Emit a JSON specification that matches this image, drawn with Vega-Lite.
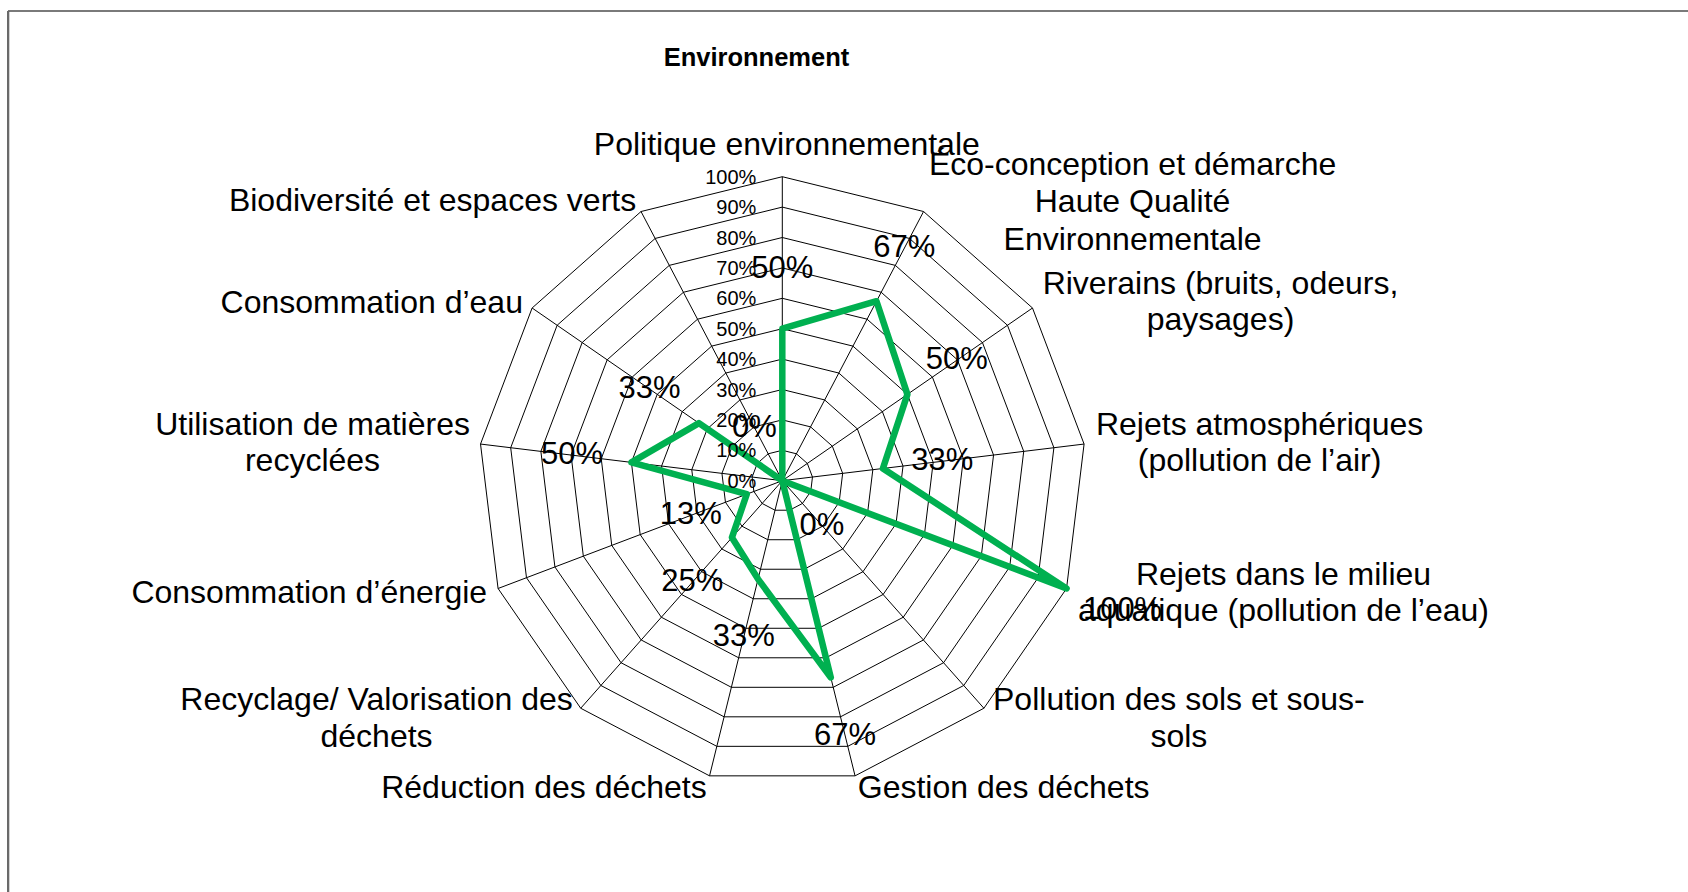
{
  "$schema": "https://vega.github.io/schema/vega-lite/v6.json",
  "width": 1688,
  "height": 892,
  "autosize": "none",
  "padding": 0,
  "background": "white",
  "config": {"view": {"stroke": null}, "text": {"font": "Liberation Sans", "color": "black"}},
  "title": {"text": "Environnement", "font": "Liberation Sans", "fontSize": 25.5, "fontWeight": "bold", "color": "black", "anchor": "middle", "frame": "group", "orient": "top", "offset": -91, "baseline": "alphabetic", "dx": -87.5},
  "datasets": {
    "cats": [
      {"i": 0, "cat": "Politique environnementale", "value": 0.5},
      {"i": 1, "cat": "Éco-conception et démarche\nHaute Qualité\nEnvironnementale", "value": 0.6667},
      {"i": 2, "cat": "Riverains (bruits, odeurs,\npaysages)", "value": 0.5},
      {"i": 3, "cat": "Rejets atmosphériques\n(pollution de l’air)", "value": 0.3333},
      {"i": 4, "cat": "Rejets dans le milieu\naquatique (pollution de l’eau)", "value": 1.0},
      {"i": 5, "cat": "Pollution des sols et sous-\nsols", "value": 0},
      {"i": 6, "cat": "Gestion des déchets", "value": 0.6667},
      {"i": 7, "cat": "Réduction des déchets", "value": 0.3333},
      {"i": 8, "cat": "Recyclage/ Valorisation des\ndéchets", "value": 0.25},
      {"i": 9, "cat": "Consommation d’énergie", "value": 0.125},
      {"i": 10, "cat": "Utilisation de matières\nrecyclées", "value": 0.5},
      {"i": 11, "cat": "Consommation d’eau", "value": 0.3333},
      {"i": 12, "cat": "Biodiversité et espaces verts", "value": 0}
    ],
    "grid": [
      {"i": 0, "levels": [0.1, 0.2, 0.3, 0.4, 0.5, 0.6, 0.7, 0.8, 0.9, 1.0]},
      {"i": 1, "levels": [0.1, 0.2, 0.3, 0.4, 0.5, 0.6, 0.7, 0.8, 0.9, 1.0]},
      {"i": 2, "levels": [0.1, 0.2, 0.3, 0.4, 0.5, 0.6, 0.7, 0.8, 0.9, 1.0]},
      {"i": 3, "levels": [0.1, 0.2, 0.3, 0.4, 0.5, 0.6, 0.7, 0.8, 0.9, 1.0]},
      {"i": 4, "levels": [0.1, 0.2, 0.3, 0.4, 0.5, 0.6, 0.7, 0.8, 0.9, 1.0]},
      {"i": 5, "levels": [0.1, 0.2, 0.3, 0.4, 0.5, 0.6, 0.7, 0.8, 0.9, 1.0]},
      {"i": 6, "levels": [0.1, 0.2, 0.3, 0.4, 0.5, 0.6, 0.7, 0.8, 0.9, 1.0]},
      {"i": 7, "levels": [0.1, 0.2, 0.3, 0.4, 0.5, 0.6, 0.7, 0.8, 0.9, 1.0]},
      {"i": 8, "levels": [0.1, 0.2, 0.3, 0.4, 0.5, 0.6, 0.7, 0.8, 0.9, 1.0]},
      {"i": 9, "levels": [0.1, 0.2, 0.3, 0.4, 0.5, 0.6, 0.7, 0.8, 0.9, 1.0]},
      {"i": 10, "levels": [0.1, 0.2, 0.3, 0.4, 0.5, 0.6, 0.7, 0.8, 0.9, 1.0]},
      {"i": 11, "levels": [0.1, 0.2, 0.3, 0.4, 0.5, 0.6, 0.7, 0.8, 0.9, 1.0]},
      {"i": 12, "levels": [0.1, 0.2, 0.3, 0.4, 0.5, 0.6, 0.7, 0.8, 0.9, 1.0]}
    ],
    "ticks": [
      {"t": 0}, {"t": 0.1}, {"t": 0.2}, {"t": 0.3}, {"t": 0.4}, {"t": 0.5},
      {"t": 0.6}, {"t": 0.7}, {"t": 0.8}, {"t": 0.9}, {"t": 1.0}
    ]
  },
  "layer": [
    {
      "data": {"name": "ticks"},
      "mark": {"type": "rule", "stroke": "#7a7a7a", "strokeWidth": 2},
      "encoding": {
        "x": {"datum": -2.547, "type": "quantitative", "scale": {"domain": [-2.5734, 2.9793], "nice": false, "zero": false}, "axis": null},
        "x2": {"datum": 2.9793},
        "y": {"datum": 1.5451, "type": "quantitative", "scale": {"domain": [-1.353, 1.5813], "nice": false, "zero": false}, "axis": null}
      }
    },
    {
      "data": {"name": "ticks"},
      "mark": {"type": "rule", "stroke": "#6a6a6a", "strokeWidth": 2},
      "encoding": {
        "x": {"datum": -2.547, "type": "quantitative", "scale": {"domain": [-2.5734, 2.9793], "nice": false, "zero": false}, "axis": null},
        "y": {"datum": 1.5451, "type": "quantitative", "scale": {"domain": [-1.353, 1.5813], "nice": false, "zero": false}, "axis": null},
        "y2": {"datum": -1.353}
      }
    },
    {
      "data": {"name": "grid"},
      "transform": [
        {"flatten": ["levels"]},
        {"calculate": "datum.levels * sin(2 * PI * datum.i / 13)", "as": "gx"},
        {"calculate": "datum.levels * cos(2 * PI * datum.i / 13)", "as": "gy"}
      ],
      "mark": {"type": "line", "interpolate": "linear-closed", "stroke": "black", "strokeWidth": 1},
      "encoding": {
        "x": {"field": "gx", "type": "quantitative", "scale": {"domain": [-2.5734, 2.9793], "nice": false, "zero": false}, "axis": null},
        "y": {"field": "gy", "type": "quantitative", "scale": {"domain": [-1.353, 1.5813], "nice": false, "zero": false}, "axis": null},
        "detail": {"field": "levels", "type": "nominal"},
        "order": {"field": "i", "type": "quantitative"}
      }
    },
    {
      "data": {"name": "cats"},
      "transform": [
        {"calculate": "sin(2 * PI * datum.i / 13)", "as": "sx"},
        {"calculate": "cos(2 * PI * datum.i / 13)", "as": "sy"}
      ],
      "mark": {"type": "rule", "stroke": "black", "strokeWidth": 1},
      "encoding": {
        "x": {"field": "sx", "type": "quantitative", "scale": {"domain": [-2.5734, 2.9793], "nice": false, "zero": false}, "axis": null},
        "y": {"field": "sy", "type": "quantitative", "scale": {"domain": [-1.353, 1.5813], "nice": false, "zero": false}, "axis": null},
        "x2": {"datum": 0},
        "y2": {"datum": 0}
      }
    },
    {
      "data": {"name": "cats"},
      "transform": [
        {"calculate": "datum.value * sin(2 * PI * datum.i / 13)", "as": "px"},
        {"calculate": "datum.value * cos(2 * PI * datum.i / 13)", "as": "py"}
      ],
      "mark": {"type": "line", "interpolate": "linear-closed", "stroke": "#00b050", "strokeWidth": 6.5, "strokeJoin": "round", "strokeCap": "round"},
      "encoding": {
        "x": {"field": "px", "type": "quantitative", "scale": {"domain": [-2.5734, 2.9793], "nice": false, "zero": false}, "axis": null},
        "y": {"field": "py", "type": "quantitative", "scale": {"domain": [-1.353, 1.5813], "nice": false, "zero": false}, "axis": null},
        "order": {"field": "i", "type": "quantitative"}
      }
    },
    {
      "data": {"name": "ticks"},
      "mark": {"type": "text", "align": "right", "baseline": "middle", "dx": -26, "dy": 1, "fontSize": 20, "font": "Liberation Sans", "color": "black"},
      "encoding": {
        "x": {"datum": 0, "type": "quantitative", "scale": {"domain": [-2.5734, 2.9793], "nice": false, "zero": false}, "axis": null},
        "y": {"field": "t", "type": "quantitative", "scale": {"domain": [-1.353, 1.5813], "nice": false, "zero": false}, "axis": null},
        "text": {"field": "t", "type": "quantitative", "format": ".0%"}
      }
    },
    {
      "data": {"name": "cats"},
      "transform": [
        {"calculate": "(datum.value + 0.197) * sin(2 * PI * datum.i / 13)", "as": "lx"},
        {"calculate": "(datum.value + 0.197) * cos(2 * PI * datum.i / 13)", "as": "ly"}
      ],
      "mark": {"type": "text", "align": "center", "baseline": "middle", "fontSize": 31, "font": "Liberation Sans", "color": "black"},
      "encoding": {
        "x": {"field": "lx", "type": "quantitative", "scale": {"domain": [-2.5734, 2.9793], "nice": false, "zero": false}, "axis": null},
        "y": {"field": "ly", "type": "quantitative", "scale": {"domain": [-1.353, 1.5813], "nice": false, "zero": false}, "axis": null},
        "text": {"field": "value", "type": "quantitative", "format": ".0%"}
      }
    },
    {"data": {"name": "cats"}, "transform": [{"filter": "datum.i == 0"}, {"calculate": "sin(2 * PI * datum.i / 13)", "as": "sx"}, {"calculate": "cos(2 * PI * datum.i / 13)", "as": "sy"}],
     "mark": {"type": "text", "align": "center", "baseline": "alphabetic", "lineBreak": "\n", "lineHeight": 36.5, "fontSize": 32, "font": "Liberation Sans", "color": "black", "dx": 4.5, "dy": -22},
     "encoding": {"x": {"field": "sx", "type": "quantitative", "scale": {"domain": [-2.5734, 2.9793], "nice": false, "zero": false}, "axis": null}, "y": {"field": "sy", "type": "quantitative", "scale": {"domain": [-1.353, 1.5813], "nice": false, "zero": false}, "axis": null}, "text": {"field": "cat", "type": "nominal"}}},
    {"data": {"name": "cats"}, "transform": [{"filter": "datum.i == 1"}, {"calculate": "sin(2 * PI * datum.i / 13)", "as": "sx"}, {"calculate": "cos(2 * PI * datum.i / 13)", "as": "sy"}],
     "mark": {"type": "text", "align": "center", "baseline": "alphabetic", "lineBreak": "\n", "lineHeight": 37.5, "fontSize": 32, "font": "Liberation Sans", "color": "black", "dx": 209, "dy": -37},
     "encoding": {"x": {"field": "sx", "type": "quantitative", "scale": {"domain": [-2.5734, 2.9793], "nice": false, "zero": false}, "axis": null}, "y": {"field": "sy", "type": "quantitative", "scale": {"domain": [-1.353, 1.5813], "nice": false, "zero": false}, "axis": null}, "text": {"field": "cat", "type": "nominal"}}},
    {"data": {"name": "cats"}, "transform": [{"filter": "datum.i == 2"}, {"calculate": "sin(2 * PI * datum.i / 13)", "as": "sx"}, {"calculate": "cos(2 * PI * datum.i / 13)", "as": "sy"}],
     "mark": {"type": "text", "align": "center", "baseline": "alphabetic", "lineBreak": "\n", "lineHeight": 35.5, "fontSize": 32, "font": "Liberation Sans", "color": "black", "dx": 188, "dy": -14},
     "encoding": {"x": {"field": "sx", "type": "quantitative", "scale": {"domain": [-2.5734, 2.9793], "nice": false, "zero": false}, "axis": null}, "y": {"field": "sy", "type": "quantitative", "scale": {"domain": [-1.353, 1.5813], "nice": false, "zero": false}, "axis": null}, "text": {"field": "cat", "type": "nominal"}}},
    {"data": {"name": "cats"}, "transform": [{"filter": "datum.i == 3"}, {"calculate": "sin(2 * PI * datum.i / 13)", "as": "sx"}, {"calculate": "cos(2 * PI * datum.i / 13)", "as": "sy"}],
     "mark": {"type": "text", "align": "center", "baseline": "alphabetic", "lineBreak": "\n", "lineHeight": 36.5, "fontSize": 32, "font": "Liberation Sans", "color": "black", "dx": 175.5, "dy": -9.4},
     "encoding": {"x": {"field": "sx", "type": "quantitative", "scale": {"domain": [-2.5734, 2.9793], "nice": false, "zero": false}, "axis": null}, "y": {"field": "sy", "type": "quantitative", "scale": {"domain": [-1.353, 1.5813], "nice": false, "zero": false}, "axis": null}, "text": {"field": "cat", "type": "nominal"}}},
    {"data": {"name": "cats"}, "transform": [{"filter": "datum.i == 4"}, {"calculate": "sin(2 * PI * datum.i / 13)", "as": "sx"}, {"calculate": "cos(2 * PI * datum.i / 13)", "as": "sy"}],
     "mark": {"type": "text", "align": "center", "baseline": "alphabetic", "lineBreak": "\n", "lineHeight": 36, "fontSize": 32, "font": "Liberation Sans", "color": "black", "dx": 217, "dy": -3.8},
     "encoding": {"x": {"field": "sx", "type": "quantitative", "scale": {"domain": [-2.5734, 2.9793], "nice": false, "zero": false}, "axis": null}, "y": {"field": "sy", "type": "quantitative", "scale": {"domain": [-1.353, 1.5813], "nice": false, "zero": false}, "axis": null}, "text": {"field": "cat", "type": "nominal"}}},
    {"data": {"name": "cats"}, "transform": [{"filter": "datum.i == 5"}, {"calculate": "sin(2 * PI * datum.i / 13)", "as": "sx"}, {"calculate": "cos(2 * PI * datum.i / 13)", "as": "sy"}],
     "mark": {"type": "text", "align": "center", "baseline": "alphabetic", "lineBreak": "\n", "lineHeight": 37.5, "fontSize": 32, "font": "Liberation Sans", "color": "black", "dx": 195, "dy": 1.5},
     "encoding": {"x": {"field": "sx", "type": "quantitative", "scale": {"domain": [-2.5734, 2.9793], "nice": false, "zero": false}, "axis": null}, "y": {"field": "sy", "type": "quantitative", "scale": {"domain": [-1.353, 1.5813], "nice": false, "zero": false}, "axis": null}, "text": {"field": "cat", "type": "nominal"}}},
    {"data": {"name": "cats"}, "transform": [{"filter": "datum.i == 6"}, {"calculate": "sin(2 * PI * datum.i / 13)", "as": "sx"}, {"calculate": "cos(2 * PI * datum.i / 13)", "as": "sy"}],
     "mark": {"type": "text", "align": "center", "baseline": "alphabetic", "lineBreak": "\n", "lineHeight": 36.5, "fontSize": 32, "font": "Liberation Sans", "color": "black", "dx": 148.6, "dy": 22.3},
     "encoding": {"x": {"field": "sx", "type": "quantitative", "scale": {"domain": [-2.5734, 2.9793], "nice": false, "zero": false}, "axis": null}, "y": {"field": "sy", "type": "quantitative", "scale": {"domain": [-1.353, 1.5813], "nice": false, "zero": false}, "axis": null}, "text": {"field": "cat", "type": "nominal"}}},
    {"data": {"name": "cats"}, "transform": [{"filter": "datum.i == 7"}, {"calculate": "sin(2 * PI * datum.i / 13)", "as": "sx"}, {"calculate": "cos(2 * PI * datum.i / 13)", "as": "sy"}],
     "mark": {"type": "text", "align": "center", "baseline": "alphabetic", "lineBreak": "\n", "lineHeight": 36.5, "fontSize": 32, "font": "Liberation Sans", "color": "black", "dx": -165.6, "dy": 22.3},
     "encoding": {"x": {"field": "sx", "type": "quantitative", "scale": {"domain": [-2.5734, 2.9793], "nice": false, "zero": false}, "axis": null}, "y": {"field": "sy", "type": "quantitative", "scale": {"domain": [-1.353, 1.5813], "nice": false, "zero": false}, "axis": null}, "text": {"field": "cat", "type": "nominal"}}},
    {"data": {"name": "cats"}, "transform": [{"filter": "datum.i == 8"}, {"calculate": "sin(2 * PI * datum.i / 13)", "as": "sx"}, {"calculate": "cos(2 * PI * datum.i / 13)", "as": "sy"}],
     "mark": {"type": "text", "align": "center", "baseline": "alphabetic", "lineBreak": "\n", "lineHeight": 37.5, "fontSize": 32, "font": "Liberation Sans", "color": "black", "dx": -204.2, "dy": 1.5},
     "encoding": {"x": {"field": "sx", "type": "quantitative", "scale": {"domain": [-2.5734, 2.9793], "nice": false, "zero": false}, "axis": null}, "y": {"field": "sy", "type": "quantitative", "scale": {"domain": [-1.353, 1.5813], "nice": false, "zero": false}, "axis": null}, "text": {"field": "cat", "type": "nominal"}}},
    {"data": {"name": "cats"}, "transform": [{"filter": "datum.i == 9"}, {"calculate": "sin(2 * PI * datum.i / 13)", "as": "sx"}, {"calculate": "cos(2 * PI * datum.i / 13)", "as": "sy"}],
     "mark": {"type": "text", "align": "center", "baseline": "alphabetic", "lineBreak": "\n", "lineHeight": 36.5, "fontSize": 32, "font": "Liberation Sans", "color": "black", "dx": -188.8, "dy": 14.8},
     "encoding": {"x": {"field": "sx", "type": "quantitative", "scale": {"domain": [-2.5734, 2.9793], "nice": false, "zero": false}, "axis": null}, "y": {"field": "sy", "type": "quantitative", "scale": {"domain": [-1.353, 1.5813], "nice": false, "zero": false}, "axis": null}, "text": {"field": "cat", "type": "nominal"}}},
    {"data": {"name": "cats"}, "transform": [{"filter": "datum.i == 10"}, {"calculate": "sin(2 * PI * datum.i / 13)", "as": "sx"}, {"calculate": "cos(2 * PI * datum.i / 13)", "as": "sy"}],
     "mark": {"type": "text", "align": "center", "baseline": "alphabetic", "lineBreak": "\n", "lineHeight": 36, "fontSize": 32, "font": "Liberation Sans", "color": "black", "dx": -168, "dy": -9.4},
     "encoding": {"x": {"field": "sx", "type": "quantitative", "scale": {"domain": [-2.5734, 2.9793], "nice": false, "zero": false}, "axis": null}, "y": {"field": "sy", "type": "quantitative", "scale": {"domain": [-1.353, 1.5813], "nice": false, "zero": false}, "axis": null}, "text": {"field": "cat", "type": "nominal"}}},
    {"data": {"name": "cats"}, "transform": [{"filter": "datum.i == 11"}, {"calculate": "sin(2 * PI * datum.i / 13)", "as": "sx"}, {"calculate": "cos(2 * PI * datum.i / 13)", "as": "sy"}],
     "mark": {"type": "text", "align": "center", "baseline": "alphabetic", "lineBreak": "\n", "lineHeight": 36.5, "fontSize": 32, "font": "Liberation Sans", "color": "black", "dx": -160.4, "dy": 4.7},
     "encoding": {"x": {"field": "sx", "type": "quantitative", "scale": {"domain": [-2.5734, 2.9793], "nice": false, "zero": false}, "axis": null}, "y": {"field": "sy", "type": "quantitative", "scale": {"domain": [-1.353, 1.5813], "nice": false, "zero": false}, "axis": null}, "text": {"field": "cat", "type": "nominal"}}},
    {"data": {"name": "cats"}, "transform": [{"filter": "datum.i == 12"}, {"calculate": "sin(2 * PI * datum.i / 13)", "as": "sx"}, {"calculate": "cos(2 * PI * datum.i / 13)", "as": "sy"}],
     "mark": {"type": "text", "align": "center", "baseline": "alphabetic", "lineBreak": "\n", "lineHeight": 36.5, "fontSize": 32, "font": "Liberation Sans", "color": "black", "dx": -208.5, "dy": -0.8},
     "encoding": {"x": {"field": "sx", "type": "quantitative", "scale": {"domain": [-2.5734, 2.9793], "nice": false, "zero": false}, "axis": null}, "y": {"field": "sy", "type": "quantitative", "scale": {"domain": [-1.353, 1.5813], "nice": false, "zero": false}, "axis": null}, "text": {"field": "cat", "type": "nominal"}}}
  ]
}
